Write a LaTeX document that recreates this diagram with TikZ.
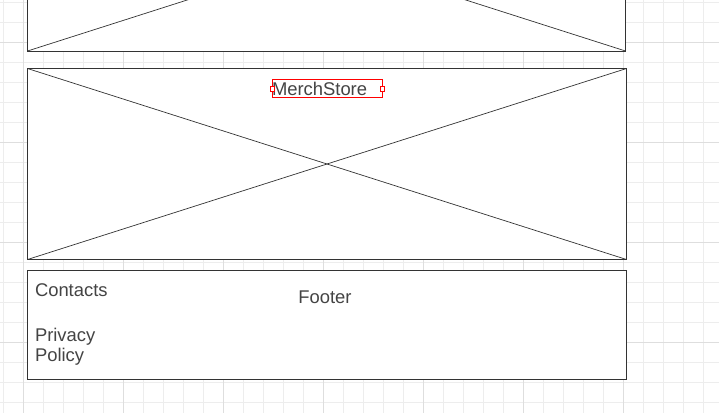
\documentclass[tikz,border=0pt]{standalone}
\usepackage{fontspec}
\setmainfont{Liberation Sans}
\definecolor{ink}{HTML}{333333}
\definecolor{txt}{HTML}{444444}
\definecolor{minorgrid}{HTML}{EDEDED}
\definecolor{majorgrid}{HTML}{DEDEDE}
\definecolor{sel}{HTML}{FF0000}
\begin{document}
\begin{tikzpicture}[x=1pt,y=-1pt,
  wire/.style={draw=ink,line width=0.9pt},
  frame/.style={wire,fill=white,rectangle,inner sep=0pt,outer sep=0pt,anchor=north west},
  label/.style={text=txt,font=\fontsize{18.4}{20}\selectfont,inner sep=0pt,outer sep=0pt},
  handle/.style={draw=sel,fill=white,line width=1pt,minimum width=4pt,minimum height=5pt,inner sep=0pt,outer sep=0pt,rectangle}]
\useasboundingbox (0,0) rectangle (719,413);
\begin{scope}
\clip (0,0) rectangle (719,413);
\fill[white] (0,0) rectangle (719,413);
\foreach \x in {3,23,...,719} \draw[minorgrid,line width=0.8pt] (\x,0) -- (\x,413);
\foreach \y in {2,22,...,413} \draw[minorgrid,line width=0.8pt] (0,\y) -- (719,\y);
\foreach \x in {23,123,...,719} \draw[majorgrid,line width=0.8pt] (\x,0) -- (\x,413);
\foreach \y in {42,142,...,413} \draw[majorgrid,line width=0.8pt] (0,\y) -- (719,\y);
% top (cut) image placeholder
\node[frame,minimum width=598pt,minimum height=191pt] (top) at (27.5,-140) {};
\draw[wire,line width=0.7pt] (top.north west) -- (top.south east);
\draw[wire,line width=0.7pt] (top.south west) -- (top.north east);
\end{scope}
% middle image placeholder
\node[frame,minimum width=599pt,minimum height=191pt] (hero) at (27.5,68.5) {};
\draw[wire,line width=0.7pt] (hero.north west) -- (hero.south east);
\draw[wire,line width=0.7pt] (hero.south west) -- (hero.north east);
% footer
\node[frame,minimum width=599pt,minimum height=109pt] (foot) at (27.5,270.5) {};
% selected label
\node[draw=sel,line width=0.9pt,rectangle,inner sep=0pt,outer sep=0pt,minimum width=110pt,minimum height=18pt,anchor=north west] (selbox) at (272.5,79.5) {};
\node[label,anchor=base west] (merch) at (272,95) {MerchStore};
\node[handle] (hl) at (selbox.west) {};
\node[handle] (hr) at (selbox.east) {};
% footer texts
\node[label,anchor=base west] (contacts) at (35,296) {Contacts};
\node[label,anchor=base west] (privacy) at (35,341.5) {Privacy};
\node[label,anchor=base west] (policy) at (35,361.5) {Policy};
\node[label,anchor=base] (footer) at (325,303) {Footer};
\end{tikzpicture}
\end{document}
